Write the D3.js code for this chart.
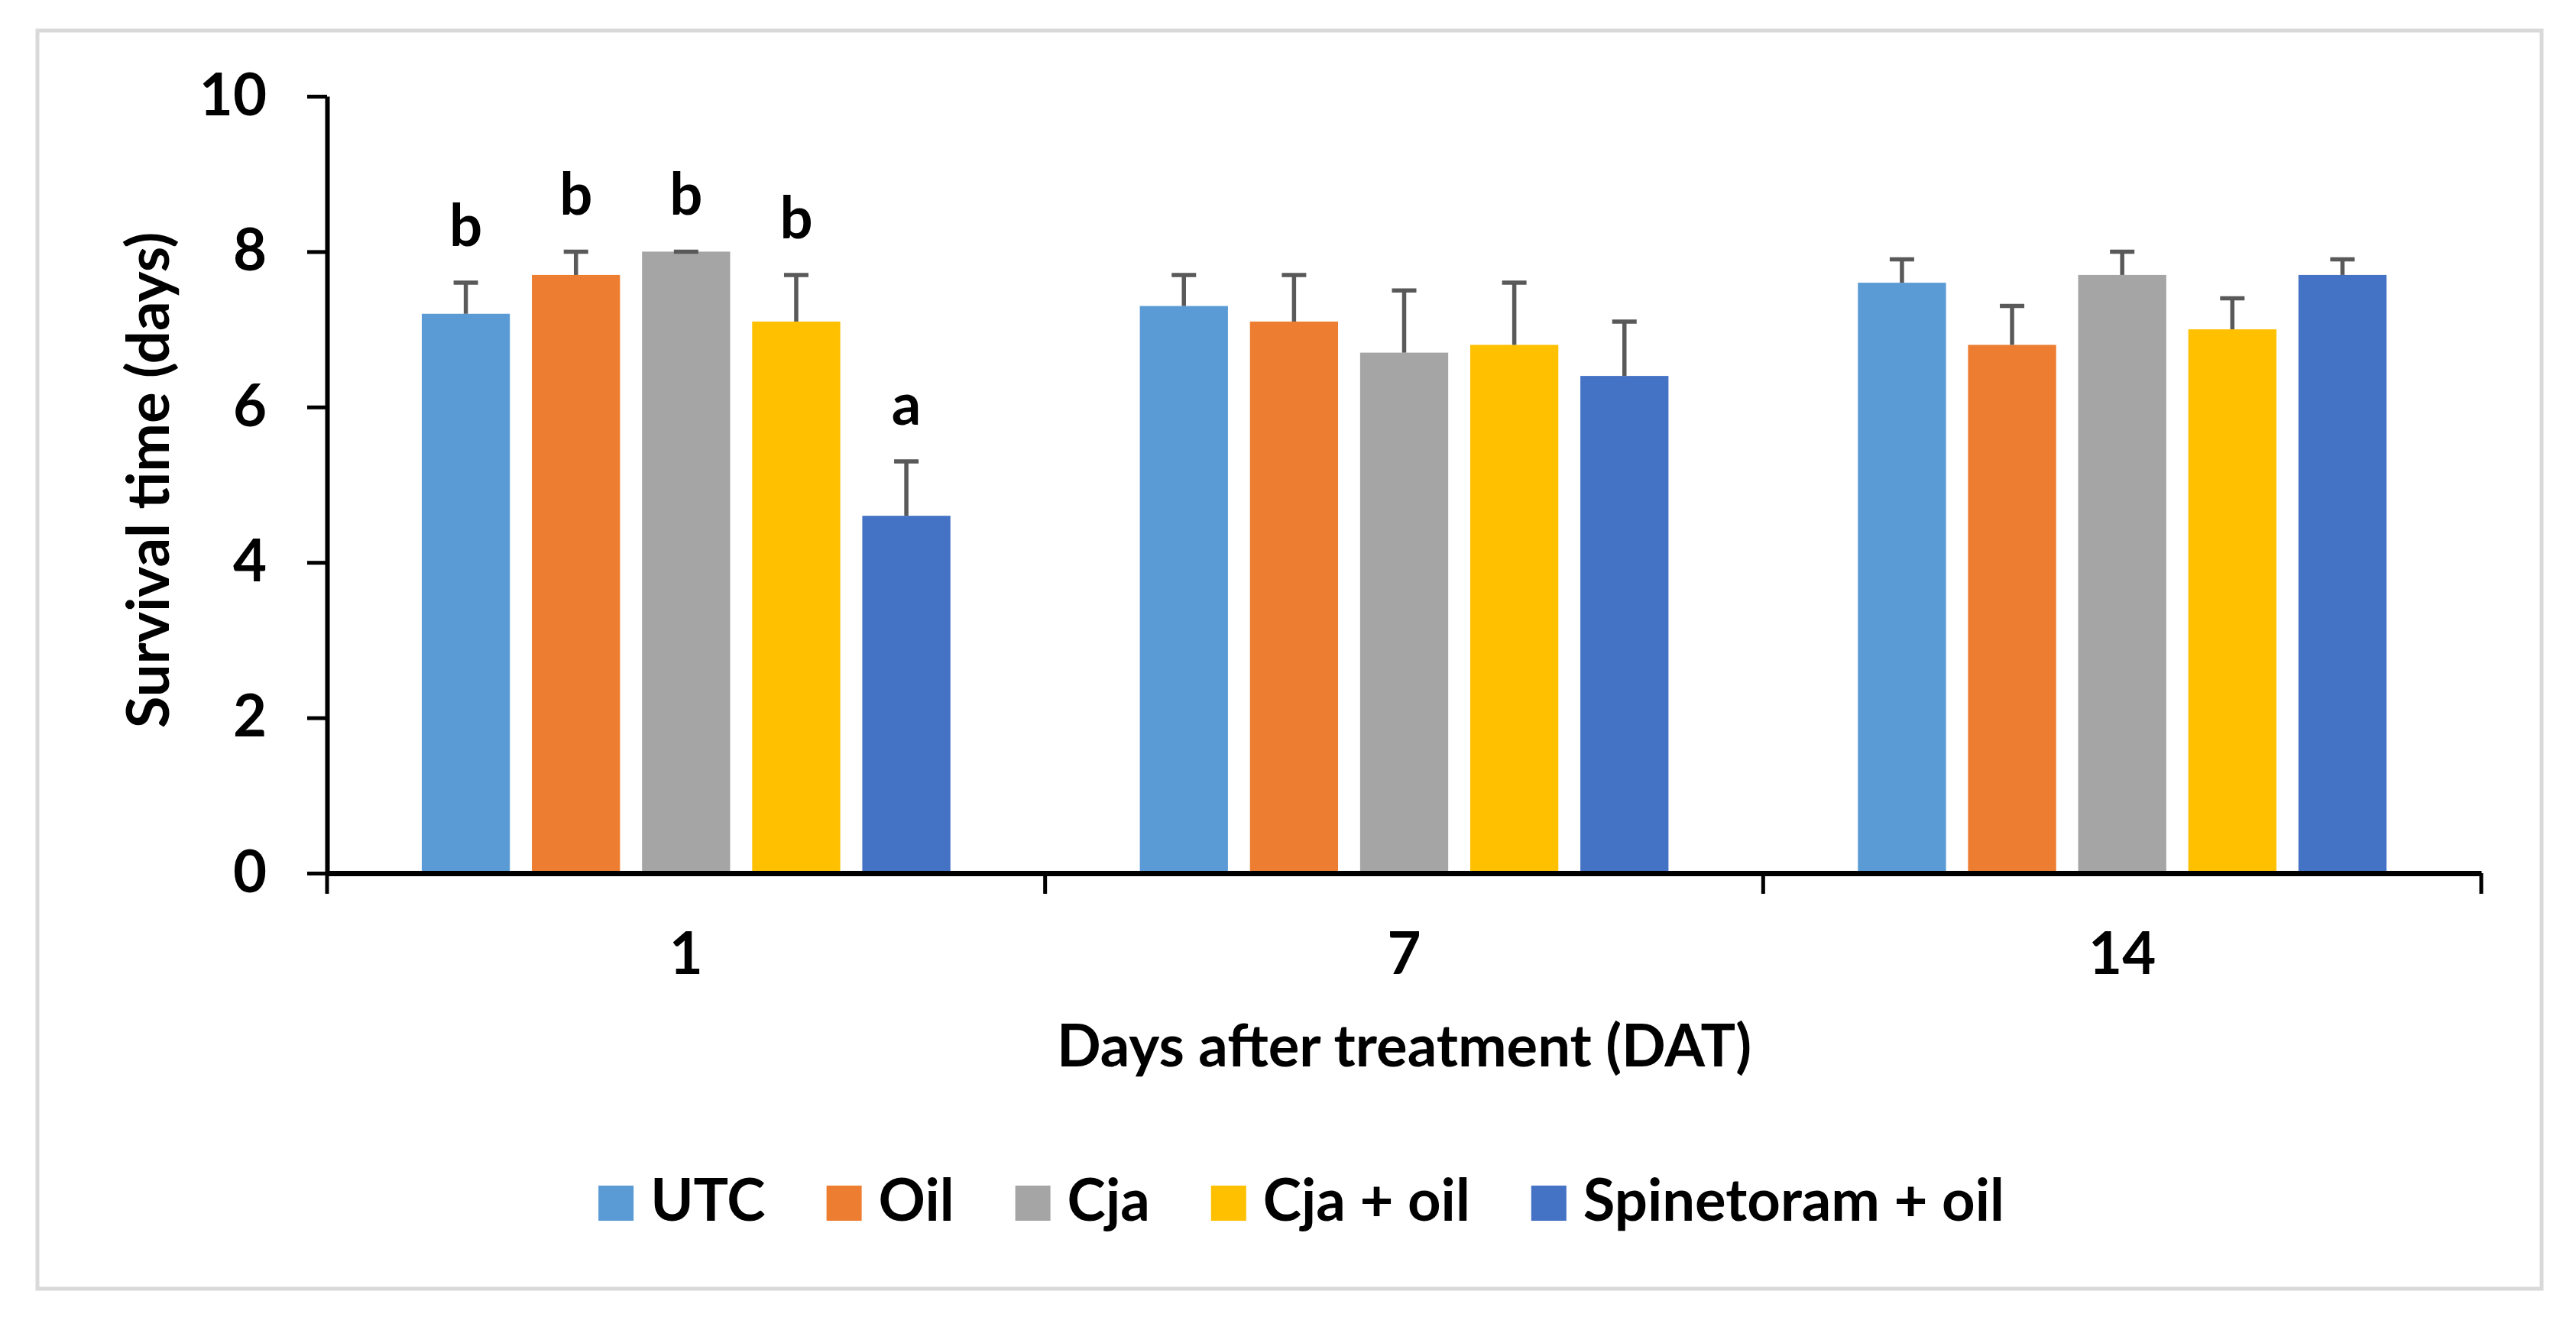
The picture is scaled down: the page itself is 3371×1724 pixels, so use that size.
<html>
<head>
<meta charset="utf-8">
<script src="https://cdnjs.cloudflare.com/ajax/libs/d3/7.8.5/d3.min.js"></script>
<style>
  body { margin: 0; background: #fff; }
  text { font-family: Lato, "Open Sans", sans-serif; font-weight: bold; fill: #000; }
</style>
</head>
<body>
<svg id="chart"></svg>
<script>
// data
var categories = ["1", "7", "14"];
var series = ["UTC", "Oil", "Cja", "Cja + oil", "Spinetoram + oil"];
var colors = ["#5B9BD5", "#ED7D31", "#A5A5A5", "#FFC000", "#4472C4"];

var utc        = [7.2, 7.3, 7.6];
var oil        = [7.7, 7.1, 6.8];
var cja        = [8.0, 6.7, 7.7];
var cjaOil     = [7.1, 6.8, 7.0];
var spinetoram = [4.6, 6.4, 7.7];

var utcErr        = [0.4, 0.4, 0.3];
var oilErr        = [0.3, 0.6, 0.5];
var cjaErr        = [0.0, 0.8, 0.3];
var cjaOilErr     = [0.6, 0.8, 0.4];
var spinetoramErr = [0.7, 0.7, 0.2];

var day1Letters = ["b", "b", "b", "b", "a"];
var yTicks = [0, 2, 4, 6, 8, 10];

var values = [utc, oil, cja, cjaOil, spinetoram];
var errors = [utcErr, oilErr, cjaErr, cjaOilErr, spinetoramErr];

var width = 3371, height = 1724;
var plot = {left: 428, right: 3247, top: 126, bottom: 1143};
var fs = 76;

var svg = d3.select("#chart").attr("width", width).attr("height", height);

// chart area border
svg.append("rect")
  .attr("x", 49).attr("y", 40)
  .attr("width", 3326 - 49).attr("height", 1687 - 40)
  .attr("fill", "#fff").attr("stroke", "#d9d9d9").attr("stroke-width", 5);

var x0 = d3.scaleBand().domain(categories).range([plot.left, plot.right]);
var x1 = d3.scaleBand().domain(series).range([0, x0.bandwidth()])
  .paddingInner(0.2).paddingOuter(0.86);
var y = d3.scaleLinear().domain([0, 10]).range([plot.bottom, plot.top]);

// table built from the arrays
var rows = [];
categories.forEach(function(c, ci) {
  series.forEach(function(s, si) {
    rows.push({cat: c, ser: s, si: si, v: values[si][ci], e: errors[si][ci],
               letter: ci === 0 ? day1Letters[si] : null});
  });
});

// bars
svg.append("g").selectAll("rect").data(rows).enter().append("rect")
  .attr("x", function(d) { return x0(d.cat) + x1(d.ser); })
  .attr("y", function(d) { return y(d.v); })
  .attr("width", x1.bandwidth())
  .attr("height", function(d) { return y(0) - y(d.v); })
  .attr("fill", function(d) { return colors[d.si]; });

// error bars (plus only)
var eb = svg.append("g").attr("stroke", "#595959").attr("stroke-width", 5.5);
rows.forEach(function(d) {
  var cx = x0(d.cat) + x1(d.ser) + x1.bandwidth() / 2;
  eb.append("line").attr("x1", cx).attr("x2", cx).attr("y1", y(d.v)).attr("y2", y(d.v + d.e));
  eb.append("line").attr("x1", cx - 16).attr("x2", cx + 16).attr("y1", y(d.v + d.e)).attr("y2", y(d.v + d.e));
});

// significance letters
svg.append("g").selectAll("text").data(rows.filter(function(d) { return d.letter; }))
  .enter().append("text")
  .attr("x", function(d) { return x0(d.cat) + x1(d.ser) + x1.bandwidth() / 2; })
  .attr("y", function(d) { return y(d.v + d.e) - 48; })
  .attr("text-anchor", "middle")
  .style("font-size", fs + "px")
  .text(function(d) { return d.letter; });

// y axis
var yAxis = svg.append("g").attr("transform", "translate(" + plot.left + ",0)")
  .call(d3.axisLeft(y).tickValues(yTicks).tickSize(26).tickPadding(53).tickSizeOuter(0));
yAxis.select(".domain").attr("stroke", "#000").attr("stroke-width", 6);
yAxis.selectAll(".tick line").attr("stroke", "#000").attr("stroke-width", 5);
yAxis.selectAll(".tick text").style("font-size", fs + "px").attr("font-family", null);

// x axis
var xAxis = svg.append("g").attr("transform", "translate(0," + plot.bottom + ")")
  .call(d3.axisBottom(x0).tickSize(0).tickPadding(78).tickSizeOuter(0));
xAxis.select(".domain").attr("stroke", "#000").attr("stroke-width", 7);
xAxis.selectAll(".tick text").style("font-size", fs + "px").attr("font-family", null);
var bounds = categories.map(function(c) { return x0(c); }).concat([x0.range()[1]]);
xAxis.selectAll(".bound").data(bounds).enter().append("line")
  .attr("x1", function(d) { return d; }).attr("x2", function(d) { return d; })
  .attr("y1", 0).attr("y2", 27)
  .attr("stroke", "#000").attr("stroke-width", 5);

// axis titles
svg.append("text")
  .attr("transform", "translate(221," + ((plot.top + plot.bottom) / 2 - 6) + ") rotate(-90)")
  .attr("text-anchor", "middle")
  .style("font-size", fs + "px")
  .text("Survival time (days)");

svg.append("text")
  .attr("x", (plot.left + plot.right) / 2).attr("y", 1396)
  .attr("text-anchor", "middle")
  .style("font-size", fs + "px")
  .text("Days after treatment (DAT)");

// legend
var legend = svg.append("g");
var lx = 0;
series.forEach(function(s, i) {
  var g = legend.append("g").attr("transform", "translate(" + lx + ",0)");
  g.append("rect").attr("x", 0).attr("y", 1552).attr("width", 46).attr("height", 46)
    .attr("fill", colors[i]);
  var t = g.append("text").attr("x", 68).attr("y", 1598)
    .style("font-size", fs + "px").text(s);
  lx += 68 + t.node().getComputedTextLength() + 80;
});
lx -= 80;
legend.attr("transform", "translate(" + (1703 - lx / 2) + ",0)");
</script>
</body>
</html>
